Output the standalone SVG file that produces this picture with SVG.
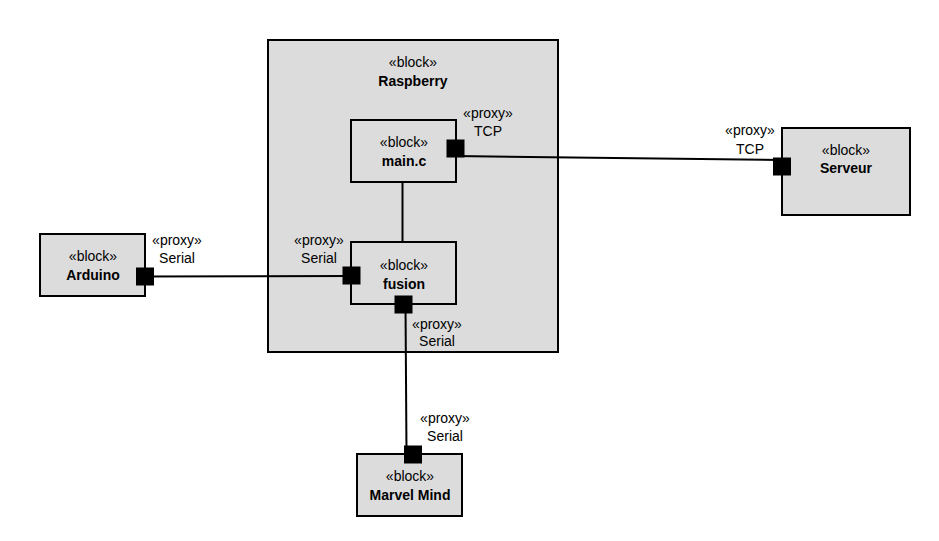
<svg xmlns="http://www.w3.org/2000/svg" width="939" height="541" viewBox="0 0 939 541">
<style>
.blk{fill:#dcdcdc;stroke:#000;stroke-width:2}
.port{fill:#000;stroke:#000;stroke-width:1}
.ln{stroke:#000;stroke-width:2;fill:none}
text{font-family:"Liberation Sans",Arial,sans-serif;font-size:14px;fill:#000;text-anchor:middle}
.b{font-weight:bold}
</style>
<rect width="939" height="541" fill="#fff"/>
<g id="raspberry">
<rect class="blk" x="268" y="40" width="290" height="312"/>
<text x="413" y="67">«block»</text>
<text class="b" x="413" y="86">Raspberry</text>
</g>
<g id="connectors">
<line class="ln" x1="402.5" y1="182" x2="402.5" y2="242"/>
<line class="ln" x1="455" y1="156" x2="782" y2="160"/>
<line class="ln" x1="145" y1="276.5" x2="351" y2="276"/>
<line class="ln" x1="405.5" y1="304" x2="406.5" y2="454"/>
</g>
<g id="main_c">
<rect class="blk" x="351" y="120" width="105" height="62"/>
<text x="404" y="147">«block»</text>
<text class="b" x="404" y="166">main.c</text>
<rect class="port" x="447" y="140" width="17" height="17"/>
<text x="488" y="118">«proxy»</text>
<text x="488" y="136">TCP</text>
</g>
<g id="fusion">
<rect class="blk" x="351" y="242" width="105" height="62"/>
<text x="404" y="270">«block»</text>
<text class="b" x="404" y="289">fusion</text>
<rect class="port" x="343" y="267" width="17" height="17"/>
<text x="319" y="245">«proxy»</text>
<text x="319" y="263">Serial</text>
<rect class="port" x="395" y="296" width="17" height="17"/>
<text x="437" y="329">«proxy»</text>
<text x="437" y="346">Serial</text>
</g>
<g id="serveur">
<rect class="blk" x="782" y="128" width="128" height="87"/>
<text x="846" y="155">«block»</text>
<text class="b" x="846" y="173">Serveur</text>
<rect class="port" x="773.5" y="158" width="17" height="17"/>
<text x="750" y="135">«proxy»</text>
<text x="750" y="154">TCP</text>
</g>
<g id="arduino">
<rect class="blk" x="40" y="234" width="105" height="62"/>
<text x="93" y="261">«block»</text>
<text class="b" x="93" y="280">Arduino</text>
<rect class="port" x="136.5" y="268" width="17" height="17"/>
<text x="177" y="245">«proxy»</text>
<text x="177" y="263">Serial</text>
</g>
<g id="marvel_mind">
<rect class="blk" x="357" y="454" width="105" height="62"/>
<text x="410" y="481">«block»</text>
<text class="b" x="410" y="500">Marvel Mind</text>
<rect class="port" x="404.5" y="446" width="17" height="17"/>
<text x="445" y="423">«proxy»</text>
<text x="445" y="441">Serial</text>
</g>
</svg>
